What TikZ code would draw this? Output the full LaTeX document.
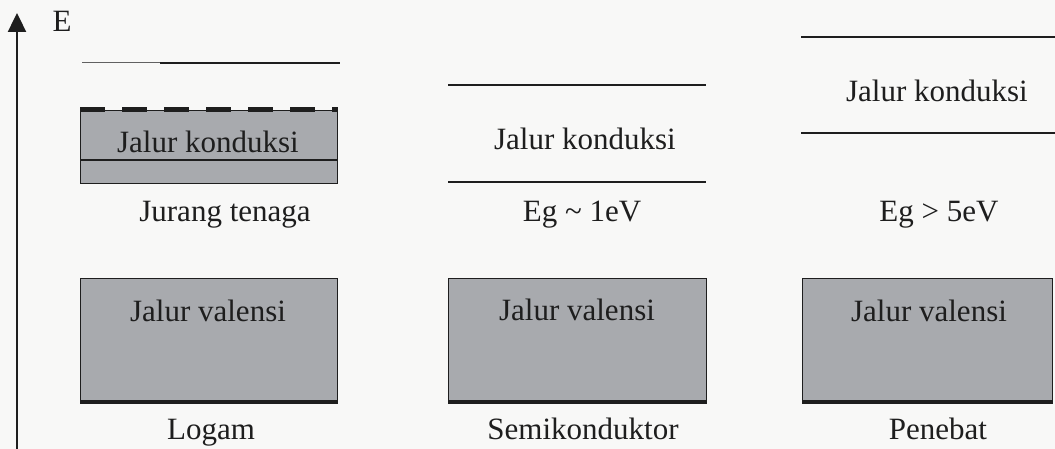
\documentclass[tikz,border=0pt]{standalone}
\usepackage{fontspec}
\setmainfont{Liberation Serif}
\usetikzlibrary{arrows.meta}
\definecolor{bandgrey}{RGB}{168,170,174}
\definecolor{ink}{RGB}{30,30,30}
\definecolor{paper}{RGB}{248,248,247}
\begin{document}
\begin{tikzpicture}[x=1pt,y=-1pt,
  lbl/.style={font=\fontsize{31}{35}\selectfont, text=ink, anchor=base, inner sep=0pt},
  level/.style={draw=ink, line width=2pt},
  band/.style={draw=ink, fill=bandgrey, line width=1.4pt, rectangle, inner sep=0pt, anchor=north west},
  bandfloor/.style={draw=ink, line width=4pt},
  fermi/.style={draw=ink, line width=5pt, dash pattern=on 25pt off 17pt}]
  \fill[paper] (0,0) rectangle (1055,449);
  \useasboundingbox (0,0) rectangle (1055,449);

  % energy axis
  \coordinate (axbot) at (17,452);
  \coordinate (axtop) at (17,13);
  \draw[draw=ink, line width=2.4pt, -{Triangle[length=19pt,width=18pt]}] (axbot) -- (axtop);
  \node[lbl] (E) at (62,32) {E};

  % ---- Logam ----
  \coordinate (l1a) at (82,63);  \coordinate (l1m) at (160,63); \coordinate (l1b) at (340,63);
  \draw[draw=ink!70, line width=1pt] (l1a) -- (l1m);
  \draw[draw=ink, line width=2.2pt] (l1m) -- (l1b);
  \node[band, minimum width=257pt, minimum height=73pt] (logC) at (80,110) {};
  \draw[draw=ink, line width=1.4pt] (80,160) coordinate (logCa) -- (337,160) coordinate (logCb);
  \draw[fermi] (logC.north west) -- (logC.north east);
  \node[lbl] (logCt) at (208,153) {Jalur konduksi};
  \node[lbl] (logG) at (225,222) {Jurang tenaga};
  \node[band, minimum width=257pt, minimum height=123pt] (logV) at (80,278) {};
  \draw[bandfloor] (logV.south west) -- (logV.south east);
  \node[lbl] (logVt) at (208,321) {Jalur valensi};
  \node[lbl] (logN) at (211,439) {Logam};

  % ---- Semikonduktor ----
  \coordinate (s1a) at (448,85);  \coordinate (s1b) at (706,85);
  \coordinate (s2a) at (448,182); \coordinate (s2b) at (706,182);
  \draw[level] (s1a) -- (s1b);
  \draw[level] (s2a) -- (s2b);
  \node[lbl] (semCt) at (585,150) {Jalur konduksi};
  \node[lbl] (semG) at (582,222) {Eg \textasciitilde{} 1eV};
  \node[band, minimum width=258pt, minimum height=123pt] (semV) at (448,278) {};
  \draw[bandfloor] (semV.south west) -- (semV.south east);
  \node[lbl] (semVt) at (577,320) {Jalur valensi};
  \node[lbl] (semN) at (583,439) {Semikonduktor};

  % ---- Penebat ----
  \coordinate (p1a) at (801,37);  \coordinate (p1b) at (1056,37);
  \coordinate (p2a) at (801,133); \coordinate (p2b) at (1056,133);
  \draw[level] (p1a) -- (p1b);
  \draw[level] (p2a) -- (p2b);
  \node[lbl] (penCt) at (937,102) {Jalur konduksi};
  \node[lbl] (penG) at (939,222) {Eg > 5eV};
  \node[band, minimum width=250pt, minimum height=123pt] (penV) at (802,278) {};
  \draw[bandfloor] (penV.south west) -- (penV.south east);
  \node[lbl] (penVt) at (929,321) {Jalur valensi};
  \node[lbl] (penN) at (938,439) {Penebat};
\end{tikzpicture}
\end{document}
